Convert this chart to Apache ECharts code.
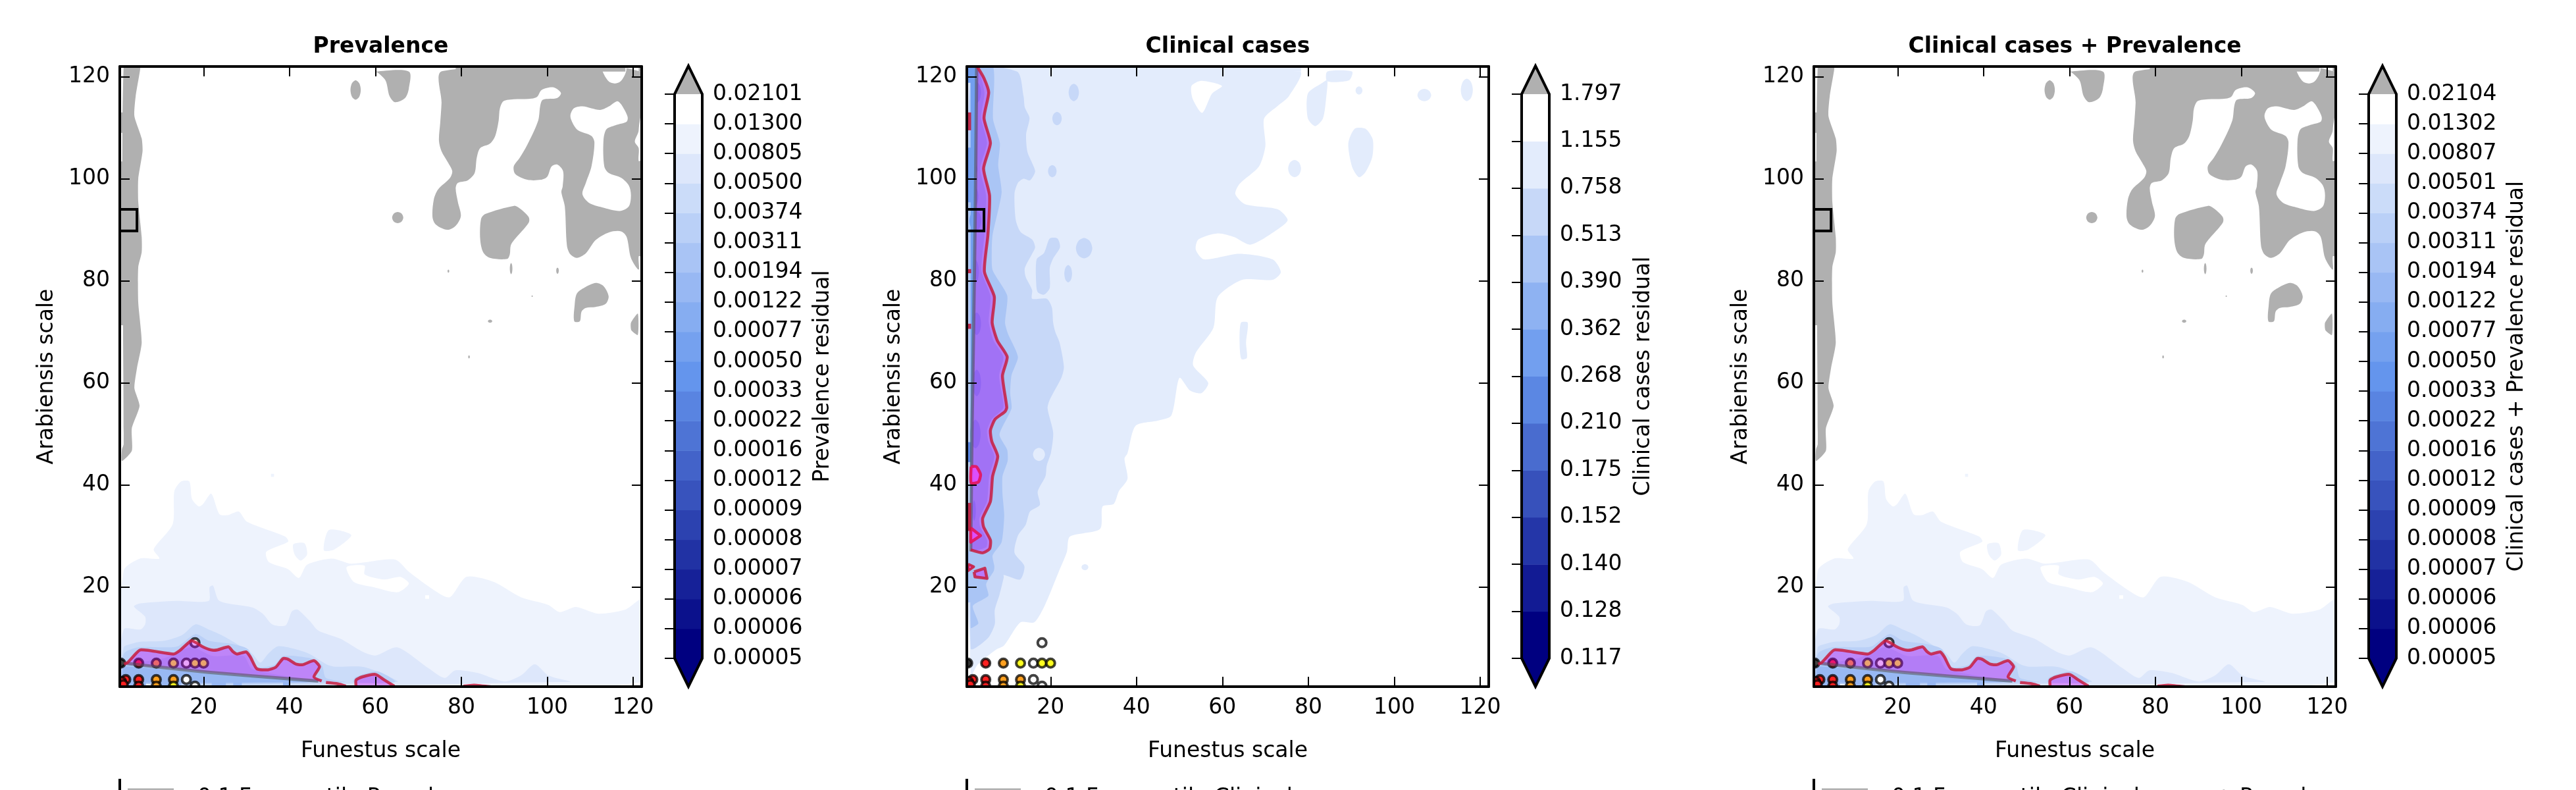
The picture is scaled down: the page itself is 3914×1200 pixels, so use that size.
<!DOCTYPE html>
<html><head><meta charset="utf-8">
<style>html,body{margin:0;padding:0;background:#fff}#c{width:3914px;height:1200px}</style>
<script src="https://cdn.jsdelivr.net/npm/echarts@6/dist/echarts.min.js"></script>
</head><body><div id="c"></div>
<script>
// ---------- text ----------
const panelTitles = ['Prevalence', 'Clinical cases', 'Clinical cases + Prevalence'];
const barNames = ['Prevalence residual', 'Clinical cases residual', 'Clinical cases + Prevalence residual'];
const legendTexts = ['0.1 Frequentile Prevalence', '0.1 Frequentile Clinical', '0.1 Frequentile Clinical cases + Prevalence'];
const axisTickValues = [20, 40, 60, 80, 100, 120];

// ---------- colour bar labels, bottom to top ----------
const prevLabels = ['0.00005','0.00006','0.00006','0.00007','0.00008','0.00009','0.00012','0.00016','0.00022','0.00033','0.00050','0.00077','0.00122','0.00194','0.00311','0.00374','0.00500','0.00805','0.01300','0.02101'];
const clinLabels = ['0.117','0.128','0.140','0.152','0.175','0.210','0.268','0.362','0.390','0.513','0.758','1.155','1.797'];
const bothLabels = ['0.00005','0.00006','0.00006','0.00007','0.00008','0.00009','0.00012','0.00016','0.00022','0.00033','0.00050','0.00077','0.00122','0.00194','0.00311','0.00374','0.00501','0.00807','0.01302','0.02104'];
const prevBands = ['#000080','#0B118C','#162198','#2132A4','#2C42B0','#3853BD','#4363C9','#4E74D5','#5984E1','#6495ED','#75A1EF','#86ADF1','#98B8F3','#A9C4F5','#BAD0F7','#CBDCF9','#DDE7FB','#EEF3FD','#FFFFFF'];
const clinBands = ['#000080','#121B94','#2436A8','#3751BB','#496CCF','#5B87E3','#729FEF','#8EB2F2','#AAC5F5','#C7D8F8','#E3ECFC','#FFFFFF'];
const overColor = '#B0B0B0';
const underColor = '#000080';

// ---------- sampled points (Funestus scale, Arabiensis scale) ----------
const markerX = [0.7,4.9,9,13,16,18,20, 1.9,4.9,9,13,16, 1.0,4.9,9,13,18, 18, 0.9,1.3];
const markerY = [5.1,5.1,5.1,5.1,5.1,5.1,5.1, 1.9,1.9,1.9,1.9,1.9, 0.6,0.6,0.6,0.6,0.6, 9.1, 1.5,0.9];
const markerFill = ['#333333','#FF2020','#FFA020','#FFFF20','#FFFFFF','#FFFF20','#FFFF20','#FF2020','#FF2020','#FFA020','#FFA020','#FFFFFF','#FF2020','#FF2020','#FFA020','#FFFF20','#FFFFFF','#FFFFFF','#FF2020','#FF2020'];
const boxCorners = [[0.5,89.8],[4.5,94]];

// ---------- Prevalence surface: filled contour outlines ----------
const prevBand17 = [[1.4,23.2],[5.2,25.6],[9.7,25.6],[8.4,27.4],[12.8,32.3],[13.2,38.8],[14.8,40.7],[16.7,40.7],[17.3,37.3],[18.9,35.8],[19.9,36.3],[21.8,38.3],[23.7,34.3],[25.6,34.1],[28.2,34.8],[30.1,32.8],[39,29.9],[39.7,28.9],[34.6,26.9],[35.2,24.9],[39.7,23.5],[42.2,21.8],[44.1,24.4],[49.9,25.6],[54.4,24.6],[64.6,25.4],[67.8,23],[73.5,19.5],[77.3,18],[81.2,22],[87.6,21],[93.9,18],[100.3,16.5],[102.9,15.1],[106.7,16.1],[111.8,14.8],[118.2,15.6],[122,17.5],[122,1.4],[1.4,1.4]];
const prevIsland1 = [[40.9,28.4],[43.5,28.6],[44.1,26.4],[42.6,25.2],[41.2,26.4]];
const prevIsland2 = [[49.2,31.2],[54.4,30.2],[50.5,27.4],[48,27.2]];
const prevIsland3 = [[35.7,42.2],[36.4,42.2],[36.4,41.6],[35.7,41.6]];
const prevWhite1 = [[53.3,23.9],[57.5,24.2],[57.5,22.5],[62,21.5],[65.8,22],[67.8,20.7],[65.2,19],[59.5,20],[55,21]];
const prevWhite2 = [[71.6,18.4],[72.5,18.4],[72.5,17.7],[71.6,17.7]];
const prevBand16 = [[1.4,11.7],[5.3,11.7],[6.4,12.7],[6.4,14.2],[3.8,16.2],[5.3,16.8],[13.5,17.3],[21.2,17.3],[21.4,20],[22.2,20.3],[23.7,17.3],[31.4,16],[33.9,14.7],[36,12.7],[39.1,12.5],[40.6,15.3],[41.9,15.6],[44.7,13.4],[46.7,11.5],[51.8,9.9],[56.9,7.4],[60,6.6],[65.1,8.2],[72.2,4.2],[76.1,2.2],[78.6,3.7],[83.7,3.2],[90.1,1.5],[93.9,2.7],[97.1,4.9],[100.3,2.7],[105.4,1.5],[105.4,1.4],[1.4,1.4]];
const prevBand15 = [[1.4,8.2],[3.3,8.9],[5.3,9.3],[10.9,9.5],[15,10.6],[18.1,12.7],[21.2,11.7],[24.2,10.6],[27.3,9.1],[31.4,6.9],[33.2,5.2],[35,6.9],[37.3,8.4],[41.6,7.8],[44.7,6.9],[48.8,4.8],[50.8,4.4],[56.9,4.4],[61.5,3.1],[65.1,1.4],[1.4,1.4]];
const prevBand14a = [[1.4,6.9],[4.8,8.2],[11,8.2],[14,8.4],[18.1,10.8],[21.2,9.5],[26.3,8.9],[30.4,7.8],[32.4,4.4],[36.5,4.8],[38.5,6.5],[44.7,6.1],[47.5,4.8],[48.5,2.2],[52.9,1.4],[1.4,1.4]];
const prevBand14b = [[54.9,1.4],[55.4,2.4],[60.5,3.5],[64.6,1.4]];
const prevBand13 = [[1.4,4.4],[11,6.1],[17.1,8.2],[22.2,6.5],[29.3,6.5],[31.4,3.9],[46.7,1.6],[46.7,1.4],[1.4,1.4]];
const prevBand12 = [[1.4,4.4],[21.2,3.1],[46.7,1.6],[46.7,1.4],[1.4,1.4]];
const prevBottomTabs = [[1.5,6.6],[8.9,14.8],[17.1,19.1],[21.9,25.2],[26.9,28.9],[38.5,40]];

const greyMain = [[75.6,121.1],[75.4,114.8],[75.1,111],[74.8,107.5],[75.4,105.4],[76.9,103.2],[77.9,101.5],[77.4,100.2],[74.6,97.9],[73.6,95.9],[73.3,92.5],[74.1,91],[76.7,90],[78.7,90.8],[79.9,92.7],[79.2,95.5],[78.7,98.1],[79.2,99.2],[81.5,99.7],[83.1,101.1],[83.6,104.1],[84.4,106],[86.7,106.9],[87.9,108.4],[88.7,111.4],[89,113.8],[90,115.3],[96.4,115.7],[97.7,116.1],[98.7,117.4],[101.5,117.9],[103.2,116.8],[102.3,115.8],[99,115.5],[98.4,114.4],[97.9,111.4],[95.4,106.7],[93.6,104.1],[92.2,102.4],[92.6,100.9],[95.4,99.8],[98.5,99.8],[100,100.4],[101,102.4],[102.3,102.8],[103.7,101.5],[103.6,98.5],[103.3,97.4],[104.1,94.6],[104.6,86.9],[105.4,85.2],[106.9,84.5],[109,85.4],[111.3,88],[114.4,89.5],[117.2,89.7],[118.5,88.6],[119.5,84.5],[121.3,82.2],[121.3,84.8],[122,84.8],[122,103.5],[121.3,103.5],[121.3,106],[120.4,107.3],[121.3,109.5],[121.3,121.1]];
const greyTopNotch = [[118.2,122],[117.4,119.4],[115.4,118.7],[113.8,119.6],[113,122]];
const greyHoleA = [[105.4,112.3],[106.2,113.8],[108.2,114.2],[112.3,113.5],[114.4,114.2],[116.3,115.2],[117.2,114.6],[118.7,112.2],[118.5,111.2],[115.9,110.5],[113.8,109.7],[113.1,107.5],[113.3,102.4],[114.4,101.1],[117.2,100.2],[119,98.7],[119.5,96.8],[119,94.6],[116.9,93.7],[112.8,94.4],[109.7,95.3],[108.2,97],[109,99.2],[110.3,102.4],[111,107.1],[110.3,108.4],[107.2,109.5],[106.2,110.5]];
const greyBlobB = [[84.6,92.1],[85.6,93.1],[92.3,94.7],[93.6,94.2],[95.7,92.5],[95.7,91.4],[92.3,88],[91.5,86.9],[91.3,85.2],[90.7,84.3],[86.7,84.5],[85.1,85.6],[84.4,88.2]];
const greyBlobC = [[106.4,75.3],[106.9,77.5],[108.7,78.7],[111.3,79.6],[113.1,79],[114.3,77],[113.6,75.5],[111.3,74.9],[109,74.7],[108,74],[107.6,72.1],[106.3,72.1]];
const greyBlobD = [[119.5,71.8],[121.1,73.6],[121.1,69.4],[119.6,70.3]];
const greyTongue = [[60.1,121],[67.8,121],[67.8,117.7],[66.9,115.8],[64.6,115],[63.3,116.2],[62.4,119.2],[60.7,120.7]];
const greyLeftStrip = [[1.4,122],[5.2,122],[5.2,121.2],[4.2,116.2],[3.9,112.3],[5.6,107.9],[5.8,105.4],[4.8,100],[4.8,95.5],[5.6,88.6],[5.6,85.6],[4.8,82.7],[4.8,75.8],[5.6,67.9],[4.5,62.9],[3.9,59],[5.1,55.5],[3.3,51.1],[3.3,46.7],[1,44.7],[1,47],[1.4,48]];
const greyLeftTabs = [[109,113],[71.3,103.4]];
const greyTopTabs = [[78.7,83.8],[90.6,105.5],[109.3,118.2],[121.3,122]];
// ovals: centre x, centre y, half width, half height
const greyOvals = [[65.2,92.4,1.3,1.1],[55.4,117.4,1.2,1.9],[77,81.9,0.2,0.3],[91.6,82.4,0.3,1.1],[102.4,82,0.3,0.6],[96.5,77,0.15,0.15],[86.7,72.1,0.5,0.3],[81.8,65.1,0.2,0.3]];

// ---------- Prevalence overlay ----------
const prevPurpleA = [[1.5,4.9],[2.3,5.2],[3.3,6.1],[5.3,7.7],[13,6.9],[14.5,7.6],[17.1,9.5],[18.1,9.2],[19.6,8.4],[21.7,7.7],[23.2,7.7],[25.8,8.3],[26.8,7.4],[27.8,6.9],[29.9,7.3],[30.9,6.3],[32.4,4],[35,3.8],[36.8,4.3],[38.5,6],[39.6,5.9],[41.6,4.9],[43.1,4.8],[45.7,5.6],[47,4.4],[45.7,2.4],[47.5,1.6],[46.7,1.6],[31.4,2.6],[21.2,3.3],[11,4.2]];
const prevPurpleB = [[55.5,0.6],[55.5,1.8],[56.9,2.4],[60,2.9],[62.1,1.8],[64.4,0.6]];
const prevRedA = [[1.5,4.9],[2.3,5.2],[3.3,6.1],[5.3,7.7],[13,6.9],[14.5,7.6],[17.1,9.5],[18.1,9.2],[19.6,8.4],[21.7,7.7],[23.2,7.7],[25.8,8.3],[26.8,7.4],[27.8,6.9],[29.9,7.3],[30.9,6.3],[32.4,4],[35,3.8],[36.8,4.3],[38.5,6],[39.6,5.9],[41.6,4.9],[43.1,4.8],[45.7,5.6],[47,4.4],[45.7,2.4],[47.5,1.6]];
const prevRedB = [[48.5,1.3],[51.3,1.05],[53.1,0.6]];
const prevRedC = [[55.5,0.6],[55.5,1.8],[56.9,2.4],[60,2.9],[62.1,1.8],[64.4,0.6]];
const prevRedD = [[80.5,0.7],[83,0.9],[87,0.55]];
const prevGreyLine = [[0.7,5.2],[11,4.2],[21.2,3.3],[31.4,2.6],[46.7,1.6]];

// ---------- Clinical surface ----------
const clinBand10 = [[78,121],[75.5,116.2],[72.9,114.3],[69.7,111.8],[70,106.4],[68.5,102.4],[64,99],[63,97],[65.3,95],[72.9,94],[75.2,91.9],[72.9,90.1],[66.6,87.1],[62.7,88.6],[58.9,89.3],[54.4,88.1],[53.8,86.1],[55.7,84.2],[64,85.3],[71.7,84.2],[73.6,81.7],[71.7,80.2],[64.6,80.2],[58.9,76.8],[57.9,70.8],[53.8,65.9],[53.2,63.4],[56.7,60],[55.1,58],[52.5,58.5],[50,61],[48.1,53.6],[44.9,52.6],[39.8,51.6],[37.9,46.2],[37.2,45.2],[37.9,41.2],[35.9,38.8],[34.7,36.3],[32.1,35.8],[31.5,31.4],[24.5,29.9],[23.8,26.9],[21.9,23],[18.7,16.5],[16.2,13.1],[13,13.1],[9.2,8.6],[7.2,7.7],[3,4.8],[1.4,2.6],[1.4,121]];
const clinWhite = [[52.8,118.2],[55.1,119.2],[59.9,118.2],[57.6,116.7],[55.3,112.9],[53.1,115.6]];
const clinB10a = [[84.4,121],[90.2,121],[89.5,119.3],[84.4,119.1]];
const clinB10b = [[79.9,116.7],[83.1,118.7],[84.4,119.3],[84.2,116.2],[83.4,111.8],[81.6,110.3],[79.9,111.8]];
const clinB10c = [[89.3,106.9],[90.8,109.8],[93.3,109.8],[95,107.7],[94.9,104.3],[93.3,101.3],[91.8,100.3],[90.2,102.3]];
const clinB10d = [[64.3,71.8],[65.9,71.8],[65.5,67.9],[65.7,64.9],[64.4,64.7],[64,67.9]];
const clinB10Ovals = [[91.8,117.3,0.8,0.8],[107,116.4,1.6,1.2],[116.9,117.4,1.4,2.2],[76.8,102,1.5,1.7],[28,23.9,0.8,0.6],[17.3,46,1.4,1.3]];
const clinBand9 = [[12.2,121],[13.7,116.2],[14,114],[15.1,111.9],[14.3,108.7],[14.6,105.3],[15.7,103.1],[16.4,101.4],[15.2,99.7],[13.7,100],[12.4,99.2],[11.6,97.1],[11.9,91.9],[13,89.6],[15.7,88.1],[16.4,86.6],[15.7,85.3],[14,82.5],[14.2,80.8],[15.7,78.2],[15.7,76.5],[19.1,76.5],[20.3,74.8],[20.6,71.8],[21.1,70],[22.1,67.9],[23.1,63.2],[22.6,61.2],[19.8,56.7],[19.3,55],[20.6,50.3],[20.1,46.4],[19.1,43.8],[18.8,41.7],[17,38.7],[17.5,36.1],[15.2,34.8],[14.2,32.2],[12.4,30.1],[11.6,26.7],[13.9,24.1],[12.9,21.5],[9.1,22.4],[9.1,21.9],[8.1,18.5],[7,15.5],[7,12.7],[5.3,9.9],[1.4,8],[1.4,121]];
const clinB9a = [[16.75,84.2],[18.5,85.5],[19.8,88.3],[21.6,88.3],[22.2,86.6],[20.6,84.4],[19.8,82.5],[19.8,78.6],[18.5,77.3],[17,77.8],[16.65,79.5]];
const clinB9Ovals = [[25.4,116.9,1.2,1.7],[21.5,111.8,1.1,1.3],[20.4,101.5,1,1.2],[27.8,86.4,1.9,2],[24.1,81.4,0.9,1.7]];
const clinBand8 = [[6.6,122],[6.6,111.7],[8.2,107],[7.8,102.7],[8.6,97.3],[6.5,89],[6.3,86],[6.5,82.1],[9.9,77.1],[9.4,71.8],[10.1,69.6],[12.4,65.1],[10.9,61.5],[10.6,58],[10.9,55],[8.1,49.9],[9.9,46.9],[10,44.7],[8.8,41.7],[8.8,38.3],[9.2,34],[8.6,28.8],[6.5,26.2],[6.9,24.1],[6.8,23.2],[5,20.6],[5.5,18.3],[1.9,16.3],[3.2,12.9],[1.7,12],[1.4,12],[1.4,122]];
const clinBand7 = [[2.9,122],[4.6,116.9],[3.8,112],[5.2,107],[3.6,102],[5,96.7],[4.6,89],[3.9,82],[6,77],[5.6,72],[6.7,68.3],[9,65.1],[8,61.4],[9,55.2],[6.3,52.9],[5.2,50.7],[5.5,48.6],[6.9,45.6],[5.7,41.7],[5.2,36.8],[3.4,33.5],[3.6,31.8],[5.2,29.2],[5,27.8],[1.4,27.3]];
const clinBand6Strip = [[1.4,122],[2.9,122],[2.7,100],[2.45,80],[2.1,60],[1.7,45],[1.4,27.3]];
const clinDarkOvals = [[2.7,116.9,1.1,2.1],[2.2,101.8,0.8,1.1],[2.2,96.5,1,2],[2.5,91.8,1.4,2],[2.4,81.8,0.9,2.4],[2.8,71.6,1,2.2],[2.8,60,1,2.6],[2.5,50,1.2,2.8],[2.2,35,0.4,2]];
const clinLeftTabs = [[118.8,122],[95.4,106.1]];
const clinLeftDarkTabs = [[44.5,48.4]];
const clinLeftPaleTabs = [[17,27]];
const clinTopTabs8 = [[1.4,6.6]];
const clinTopTabs10 = [[24.9,28],[33.6,78.3]];

// ---------- Clinical overlay ----------
const clinRedMain = [[2.9,122],[4.5,119.7],[5.6,116.9],[4.5,111.9],[6,107],[4.4,102],[5.8,96.7],[5.4,88.9],[4.6,81.8],[6.9,76.9],[6.4,71.8],[7.6,68.3],[9.9,65.1],[8.8,61.4],[9.8,55.2],[9.4,54.4],[7.1,52.9],[6,50.7],[6.3,48.6],[7.7,45.6],[6.5,41.7],[6,36.8],[4.2,33.5],[4.4,31.8],[6,29.2],[5.8,27.5],[4.2,26.7],[1.4,27.3]];
const clinGreyLine = [[2.8,122],[2.5,96],[2.1,71.8],[1.7,50.3],[1.4,27]];
const clinIsleA = [[1.5,43.6],[2.7,43.6],[3.7,42.1],[3.2,40.6],[1.5,40.4]];
const clinIsleB = [[1.4,31.6],[3.7,30.1],[1.4,28.8]];
const clinIsleC = [[0.8,24.5],[2.1,24],[0.8,23.2]];
const clinIsleD = [[2.2,23],[4.7,23.7],[5.2,21.7],[2.4,22]];
const clinEdgeRed = [[109.5,113],[81.5,82.3],[70.6,71.6],[31,36.5]];

// ---------- build shape lists ----------
const PURPLE = 'rgba(196,0,250,0.36)';
const RED = 'rgba(200,28,62,0.85)';
function oval(o){const k=0.7;return [[o[0]-o[2],o[1]],[o[0]-o[2]*k,o[1]+o[3]*k],[o[0],o[1]+o[3]],[o[0]+o[2]*k,o[1]+o[3]*k],[o[0]+o[2],o[1]],[o[0]+o[2]*k,o[1]-o[3]*k],[o[0],o[1]-o[3]],[o[0]-o[2]*k,o[1]-o[3]*k]];}
function rectPts(x0,x1,y0,y1){return [[x0,y0],[x1,y0],[x1,y1],[x0,y1]];}
const fillOf=(pts,fill,smooth)=>({pts,fill,smooth:smooth===undefined?0.25:smooth});
const lineOf=(pts,stroke,width,smooth)=>({pts,stroke,width,line:true,smooth:smooth===undefined?0.2:smooth});

const prevUnder = [
  fillOf(prevBand17,prevBands[17]),fillOf(prevIsland1,prevBands[17]),fillOf(prevIsland2,prevBands[17]),fillOf(prevIsland3,prevBands[17],0),
  fillOf(prevWhite1,'#FFFFFF'),fillOf(prevWhite2,'#FFFFFF',0),
  fillOf(prevBand16,prevBands[16]),fillOf(prevBand15,prevBands[15]),fillOf(prevBand14a,prevBands[14]),fillOf(prevBand14b,prevBands[14]),fillOf(prevBand13,prevBands[13]),fillOf(prevBand12,prevBands[12],0.1),
  ...prevBottomTabs.map(t=>fillOf(rectPts(t[0],t[1],0.5,1.4),prevBands[12],0)),
  fillOf(greyMain,overColor,0.3),fillOf(greyTopNotch,'#FFFFFF',0.4),fillOf(greyHoleA,'#FFFFFF',0.3),fillOf(greyBlobB,overColor,0.3),fillOf(greyBlobC,overColor,0.3),fillOf(greyBlobD,overColor,0.2),fillOf(greyTongue,overColor,0.3),fillOf(greyLeftStrip,overColor,0.2),
  ...greyLeftTabs.map(t=>fillOf(rectPts(0.5,1.5,t[0],t[1]),overColor,0)),
  ...greyTopTabs.map(t=>fillOf(rectPts(t[0],t[1],121,122),overColor,0)),
  ...greyOvals.map(o=>fillOf(oval(o),overColor,0.3))
];
const prevOver = [
  fillOf(prevPurpleA,PURPLE,0.15),fillOf(prevPurpleB,PURPLE,0.15),
  lineOf(prevGreyLine,'rgba(80,80,80,0.55)',5),
  lineOf(prevRedA,RED,4.5),lineOf(prevRedB,RED,4.5),lineOf(prevRedC,RED,4.5),lineOf(prevRedD,RED,3),
  {pts:rectPts(boxCorners[0][0],boxCorners[1][0],boxCorners[0][1],boxCorners[1][1]),stroke:'#000',width:4,fill:'none',smooth:0}
];
const clinUnder = [
  fillOf(clinBand10,clinBands[10]),fillOf(clinWhite,'#FFFFFF'),fillOf(clinB10a,clinBands[10]),fillOf(clinB10b,clinBands[10]),fillOf(clinB10c,clinBands[10]),fillOf(clinB10d,clinBands[10]),
  ...clinB10Ovals.slice(0,5).map(o=>fillOf(oval(o),clinBands[10],0.3)),
  ...clinTopTabs10.map(t=>fillOf(rectPts(t[0],t[1],121,122),clinBands[10],0)),
  fillOf(clinBand9,clinBands[9]),fillOf(clinB9a,clinBands[9]),
  ...clinB9Ovals.map(o=>fillOf(oval(o),clinBands[9],0.3)),
  fillOf(oval(clinB10Ovals[5]),clinBands[10],0.3),
  fillOf(clinBand8,clinBands[8],0.2),
  ...clinLeftPaleTabs.map(t=>fillOf(rectPts(0.5,1.5,t[0],t[1]),clinBands[8],0)),
  ...clinTopTabs8.map(t=>fillOf(rectPts(t[0],t[1],121,122),clinBands[8],0)),
  fillOf(clinBand7,clinBands[7],0.2),fillOf(clinBand6Strip,clinBands[6],0),
  ...clinLeftTabs.map(t=>fillOf(rectPts(0.5,1.5,t[0],t[1]),clinBands[6],0)),
  ...clinLeftDarkTabs.map(t=>fillOf(rectPts(0.5,1.5,t[0],t[1]),clinBands[5],0)),
  ...clinDarkOvals.map(o=>fillOf(oval(o),clinBands[6],0.3))
];
const clinOver = [
  fillOf(clinRedMain.concat(clinGreyLine.slice().reverse()),PURPLE,0.15),
  lineOf(clinGreyLine,'rgba(80,80,80,0.55)',5),
  lineOf(clinRedMain,RED,4.5),
  fillOf(clinIsleA,'rgba(235,70,255,0.8)',0.2),fillOf(clinIsleB,'rgba(235,70,255,0.8)',0),fillOf(clinIsleC,'rgba(235,70,255,0.8)',0),fillOf(clinIsleD,'rgba(190,90,255,0.7)',0),
  lineOf(clinIsleA.concat([clinIsleA[0]]),'rgba(228,20,90,0.9)',4.5),lineOf(clinIsleB.concat([clinIsleB[0]]),'rgba(228,20,90,0.9)',4.5,0),lineOf(clinIsleC.concat([clinIsleC[0]]),'rgba(200,28,62,0.9)',4,0),lineOf(clinIsleD.concat([clinIsleD[0]]),RED,4.5,0),
  ...clinEdgeRed.map(t=>fillOf(rectPts(0.5,1.5,t[0],t[1]),'rgba(190,25,60,0.9)',0)),
  {pts:rectPts(boxCorners[0][0],boxCorners[1][0],boxCorners[0][1],boxCorners[1][1]),stroke:'#000',width:4,fill:'none',smooth:0}
];

const panels = [
  {left:182, under:prevUnder, over:prevOver, labels:prevLabels, bands:prevBands, nameGap:167},
  {left:1469, under:clinUnder, over:clinOver, labels:clinLabels, bands:clinBands, nameGap:127},
  {left:2756, under:prevUnder, over:prevOver, labels:bothLabels, bands:prevBands, nameGap:167}
];

// ---------- option ----------
const FONT = 'DejaVu Sans';
const T = {top:101,h:942,w:793,barOff:843,barW:42,barTop:143,barH:857,tip:43};
const grid=[],xAxis=[],yAxis=[],series=[],title=[],graphic=[];
const shapeRender=list=>(params,api)=>{
  const s=list[params.dataIndex];
  const points=s.pts.map(p=>api.coord(p));
  if(s.line) return {type:'polyline',silent:true,shape:{points,smooth:s.smooth},style:{fill:'none',stroke:s.stroke,lineWidth:s.width,lineJoin:'round'}};
  const style=s.stroke?{fill:'none',stroke:s.stroke,lineWidth:s.width}:{fill:s.fill};
  return {type:'polygon',silent:true,shape:{points,smooth:s.smooth},style};
};
const markerRender=(params,api)=>{
  const c=api.coord([api.value(0),api.value(1)]);
  return {type:'circle',silent:true,shape:{cx:c[0],cy:c[1],r:6.5},style:{fill:markerFill[params.dataIndex],stroke:'rgba(0,0,0,0.74)',lineWidth:4}};
};
const tickStyle={lineStyle:{color:'#000',width:2}};
const spine={show:true,onZero:false,lineStyle:{color:'#000',width:4}};
panels.forEach((p,i)=>{
  const g=grid.length;
  grid.push({left:p.left,top:T.top,width:T.w,height:T.h,containLabel:false});
  const xi=xAxis.length, yi=yAxis.length;
  xAxis.push({gridIndex:g,type:'value',position:'bottom',min:0.5,max:122,z:30,
    name:'Funestus scale',nameLocation:'middle',nameGap:82,nameTextStyle:{fontFamily:FONT,fontSize:33,color:'#000'},
    axisLine:spine,axisTick:{show:true,inside:true,length:15,customValues:axisTickValues,...tickStyle},
    axisLabel:{customValues:axisTickValues,margin:16,fontFamily:FONT,fontSize:33,color:'#000',hideOverlap:false},splitLine:{show:false}});
  xAxis.push({gridIndex:g,type:'value',position:'top',min:0.5,max:122,z:30,
    axisLine:spine,axisTick:{show:true,inside:true,length:15,customValues:axisTickValues,...tickStyle},axisLabel:{show:false},splitLine:{show:false}});
  yAxis.push({gridIndex:g,type:'value',position:'left',min:0.5,max:122,z:30,
    name:'Arabiensis scale',nameLocation:'middle',nameRotate:90,nameGap:94,nameTextStyle:{fontFamily:FONT,fontSize:33,color:'#000'},
    axisLine:spine,axisTick:{show:true,inside:true,length:15,customValues:axisTickValues,...tickStyle},
    axisLabel:{customValues:axisTickValues,margin:15,fontFamily:FONT,fontSize:33,color:'#000',hideOverlap:false},splitLine:{show:false}});
  yAxis.push({gridIndex:g,type:'value',position:'right',min:0.5,max:122,z:30,
    axisLine:spine,axisTick:{show:true,inside:true,length:15,customValues:axisTickValues,...tickStyle},axisLabel:{show:false},splitLine:{show:false}});
  const base={coordinateSystem:'cartesian2d',xAxisIndex:xi,yAxisIndex:yi,silent:true,animation:false,clip:true};
  series.push({...base,type:'custom',z:2,renderItem:shapeRender(p.under),data:p.under.map((_,k)=>[k,k])});
  series.push({...base,type:'custom',z:3,renderItem:markerRender,encode:{x:0,y:1},data:markerX.map((x,k)=>[x,markerY[k]])});
  series.push({...base,type:'custom',z:4,renderItem:shapeRender(p.over),data:p.over.map((_,k)=>[k,k])});

  // colour bar
  const bg=grid.length;
  grid.push({left:p.left+T.barOff,top:T.barTop,width:T.barW,height:T.barH,containLabel:false});
  const bxi=xAxis.length, byi=yAxis.length;
  xAxis.push({gridIndex:bg,type:'value',min:0,max:1,show:false});
  yAxis.push({gridIndex:bg,type:'category',position:'right',boundaryGap:false,data:p.labels,z:30,
    name:barNames[i],nameLocation:'middle',nameRotate:90,nameGap:p.nameGap,nameTextStyle:{fontFamily:FONT,fontSize:33,color:'#000'},
    axisLine:{show:false},axisTick:{show:true,inside:true,length:15,alignWithLabel:true,interval:0,...tickStyle},
    axisLabel:{margin:16,interval:0,fontFamily:FONT,fontSize:33,color:'#000',hideOverlap:false},splitLine:{show:false}});
  const n=p.bands.length;
  series.push({type:'custom',coordinateSystem:'cartesian2d',xAxisIndex:bxi,yAxisIndex:byi,silent:true,animation:false,z:6,
    data:p.bands.map((c,k)=>[k,k]).concat([[n,n],[n+1,n+1],[n+2,n+2]]),
    renderItem:(params,api)=>{
      const k=params.dataIndex;
      const a=api.coord([0,0]), b=api.coord([1,n]);
      if(k<n){
        const l=api.coord([0,k]), h=api.coord([1,k+1]);
        return {type:'rect',silent:true,shape:{x:l[0],y:h[1],width:h[0]-l[0],height:l[1]-h[1]+0.6},style:{fill:p.bands[k]}};
      }
      const mid=(a[0]+b[0])/2;
      if(k===n) return {type:'polygon',silent:true,shape:{points:[[a[0],b[1]],[b[0],b[1]],[mid,b[1]-T.tip]]},style:{fill:overColor}};
      if(k===n+1) return {type:'polygon',silent:true,shape:{points:[[a[0],a[1]],[b[0],a[1]],[mid,a[1]+T.tip]]},style:{fill:underColor}};
      return {type:'polygon',silent:true,shape:{points:[[a[0],b[1]],[mid,b[1]-T.tip],[b[0],b[1]],[b[0],a[1]],[mid,a[1]+T.tip],[a[0],a[1]]]},style:{fill:'none',stroke:'#000',lineWidth:4,lineJoin:'miter'}};
    }});

  title.push({text:panelTitles[i],left:p.left+T.w/2-5,top:50,textAlign:'center',textStyle:{fontFamily:FONT,fontSize:33,fontWeight:'bold',color:'#000'}});

  // legend fragment cut off by the bottom of the picture
  graphic.push({type:'rect',left:p.left-2,top:1183,shape:{width:4,height:17},style:{fill:'#000'}});
  graphic.push({type:'rect',left:p.left+12,top:1197.5,shape:{width:70,height:2.5},style:{fill:overColor}});
  graphic.push({type:'text',left:p.left+118,top:1196,style:{text:legendTexts[i],fontFamily:FONT,fontSize:33,fill:'#000'}});
});

const chart=echarts.init(document.getElementById('c'),null,{renderer:'canvas',width:3914,height:1200,devicePixelRatio:1});
chart.setOption({animation:false,backgroundColor:'#fff',grid,xAxis,yAxis,series,title,graphic});
</script></body></html>
